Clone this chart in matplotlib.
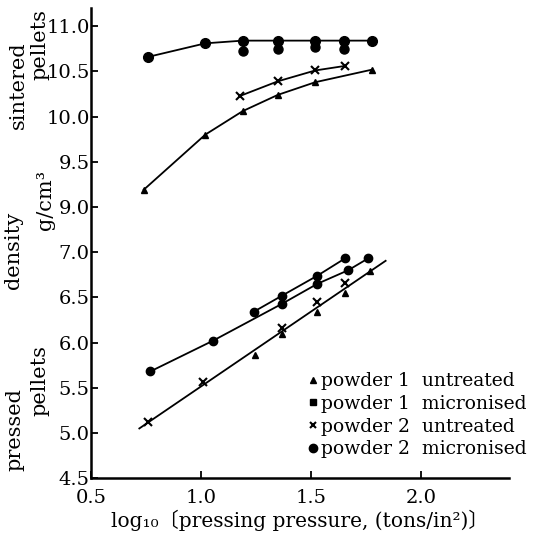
import numpy as np
import matplotlib
matplotlib.use("Agg")
import matplotlib.pyplot as plt

# log10 pressing pressure and density values
# sintered pellets
sint_p1_untr_x = [0.74, 1.02, 1.19, 1.35, 1.52, 1.78]
sint_p1_untr_y = [9.19, 9.80, 10.06, 10.24, 10.38, 10.52]
sint_p2_untr_x = [1.18, 1.35, 1.52, 1.655]
sint_p2_untr_y = [10.23, 10.39, 10.51, 10.56]
sint_p1_micr_x = [1.19, 1.35, 1.52, 1.65]
sint_p1_micr_y = [10.73, 10.75, 10.77, 10.75]
sint_p2_micr_x = [0.76, 1.02, 1.19, 1.35, 1.52, 1.65, 1.78]
sint_p2_micr_y = [10.66, 10.81, 10.84, 10.84, 10.84, 10.84, 10.84]

# pressed pellets
pres_p1_untr_x = [1.245, 1.37, 1.53, 1.655, 1.77]
pres_p1_untr_y = [5.86, 6.09, 6.34, 6.55, 6.79]
pres_p2_untr_x = [0.76, 1.01, 1.37, 1.53, 1.655]
pres_p2_untr_y = [5.12, 5.56, 6.16, 6.45, 6.66]
pres_p1_micr_x = [0.77, 1.055, 1.37, 1.53, 1.67, 1.76]
pres_p1_micr_y = [5.68, 6.02, 6.43, 6.65, 6.80, 6.93]
pres_p2_micr_x = [1.24, 1.37, 1.53, 1.655]
pres_p2_micr_y = [6.34, 6.52, 6.74, 6.93]

ytick_vals = [4.5, 5.0, 5.5, 6.0, 6.5, 7.0, 9.0, 9.5, 10.0, 10.5, 11.0]
ytick_labels = ["4.5", "5.0", "5.5", "6.0", "6.5", "7.0",
                "9.0", "9.5", "10.0", "10.5", "11.0"]
xtick_vals = [0.5, 1.0, 1.5, 2.0]
xtick_labels = ["0.5", "1.0", "1.5", "2.0"]

GAP = 1.5  # axis jumps from 7.0 straight to 9.0

# squeeze out the empty 7-9 band
def fold(y):
    y = np.asarray(y, dtype=float)
    return np.where(y >= 9.0, y - GAP, y)

plt.rcParams['font.family'] = ['DejaVu Serif', 'Noto Sans CJK JP']

fig = plt.figure(figsize=(5.35, 5.39), dpi=100)
ax = fig.add_axes([0.170, 0.113, 0.781, 0.872])

lk = dict(color='black', lw=1.3)

# sintered
ax.plot(sint_p1_untr_x, fold(sint_p1_untr_y), marker='^', ms=5, **lk)
ax.plot(sint_p2_untr_x, fold(sint_p2_untr_y), marker='x', ms=6, mew=1.5, **lk)
ax.plot(sint_p2_micr_x, fold(sint_p2_micr_y), marker='o', ms=7, **lk)
ax.plot(sint_p1_micr_x, fold(sint_p1_micr_y), marker='o', ms=6.5, ls='none', color='black')

# pressed: both untreated powders share one straight line
ux = np.array(pres_p1_untr_x + pres_p2_untr_x)
uy = np.array(pres_p1_untr_y + pres_p2_untr_y)
k, b = np.polyfit(ux, uy, 1)
lx = np.array([0.72, 1.84])
ax.plot(lx, k * lx + b, **lk)
ax.plot(pres_p1_untr_x, pres_p1_untr_y, marker='^', ms=5, ls='none', color='black')
ax.plot(pres_p2_untr_x, pres_p2_untr_y, marker='x', ms=6, mew=1.5, ls='none', color='black')
ax.plot(pres_p1_micr_x, pres_p1_micr_y, marker='o', ms=6, **lk)
ax.plot(pres_p2_micr_x, pres_p2_micr_y, marker='o', ms=6, **lk)

ax.set_xlim(0.5, 2.4)
ax.set_ylim(4.5, 9.7)
ax.set_xticks(xtick_vals)
ax.set_xticklabels(xtick_labels)
ax.set_yticks(fold(ytick_vals))
ax.set_yticklabels(ytick_labels)
ax.tick_params(direction='in', length=5, width=1.3, labelsize=14)
ax.tick_params(axis='y', pad=1)
ax.tick_params(axis='x', pad=8)
for s in ['top', 'right']:
    ax.spines[s].set_visible(False)
for s in ['left', 'bottom']:
    ax.spines[s].set_linewidth(1.8)

# legend drawn with proxy handles
h = [plt.Line2D([], [], ls='none', marker='^', ms=5, color='black'),
     plt.Line2D([], [], ls='none', marker='s', ms=4, color='black'),
     plt.Line2D([], [], ls='none', marker='x', ms=5, mew=1.5, color='black'),
     plt.Line2D([], [], ls='none', marker='o', ms=6, color='black')]
labels = ["powder 1  untreated", "powder 1  micronised",
          "powder 2  untreated", "powder 2  micronised"]
ax.legend(h, labels, loc='upper left', bbox_to_anchor=(0.52, 0.225),
          frameon=False, fontsize=13.5, handlelength=0.5, handletextpad=0.2,
          labelspacing=0.25, borderpad=0, borderaxespad=0)

ax.set_xlabel("log₁₀〔pressing pressure, (tons/in²)〕", fontsize=14.5, labelpad=2)

# side labels for the two groups
fs = 15
fig.text(18 / 535, 1 - 85 / 539, "sintered", rotation=90, fontsize=fs, ha='center', va='center')
fig.text(40 / 535, 1 - 45 / 539, "pellets", rotation=90, fontsize=fs, ha='center', va='center')
fig.text(13 / 535, 1 - 250 / 539, "density", rotation=90, fontsize=fs, ha='center', va='center')
fig.text(45 / 535, 1 - 200 / 539, "g/cm³", rotation=90, fontsize=fs, ha='center', va='center')
fig.text(15 / 535, 1 - 430 / 539, "pressed", rotation=90, fontsize=fs, ha='center', va='center')
fig.text(40 / 535, 1 - 380 / 539, "pellets", rotation=90, fontsize=fs, ha='center', va='center')

fig.savefig("out.png", dpi=100)
